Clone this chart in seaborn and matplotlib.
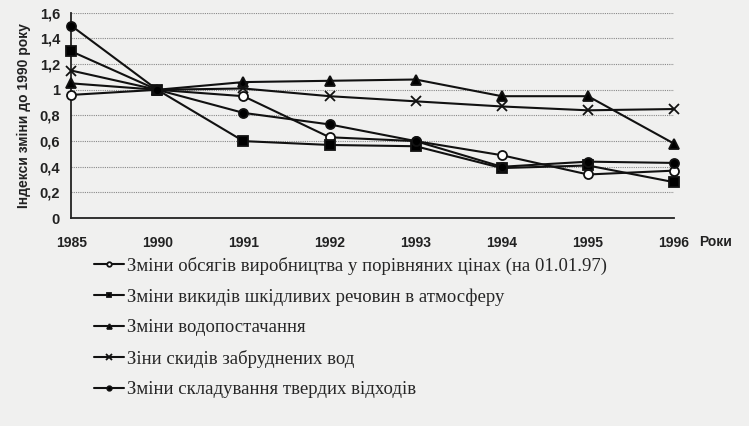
import pandas as pd
import seaborn as sns
import matplotlib.pyplot as plt

# values (index vs 1990)
years = ['1985', '1990', '1991', '1992', '1993', '1994', '1995', '1996']
production = [0.96, 1.0, 0.95, 0.63, 0.60, 0.49, 0.34, 0.37]
emissions = [1.30, 1.0, 0.60, 0.57, 0.56, 0.39, 0.41, 0.28]
water_supply = [1.05, 1.0, 1.06, 1.07, 1.08, 0.95, 0.95, 0.58]
waste_water = [1.15, 1.0, 1.01, 0.95, 0.91, 0.87, 0.84, 0.85]
solid_waste = [1.50, 1.0, 0.82, 0.73, 0.60, 0.40, 0.44, 0.43]

labels = ['Зміни обсягів виробництва у порівняних цінах (на 01.01.97)',
          'Зміни викидів шкідливих речовин в атмосферу',
          'Зміни водопостачання',
          'Зіни скидів забруднених вод',
          'Зміни складування твердих відходів']
yticks = [0, 0.2, 0.4, 0.6, 0.8, 1.0, 1.2, 1.4, 1.6]

sns.set_style('white')
plt.rcParams['font.family'] = ['Liberation Sans', 'DejaVu Sans']

bg = '#f0f0ef'
fig = plt.figure(figsize=(7.49, 4.26), dpi=100, facecolor=bg)
ax = fig.add_axes([0.095, 0.488, 0.805, 0.482])
ax.set_facecolor(bg)

series = [production, emissions, water_supply, waste_water, solid_waste]
markers = ['o', 's', '^', 'x', 'o']
faces = ['white', 'black', 'black', 'black', 'black']
sizes = [6.5, 6.5, 7, 7.5, 6.5]
for vals, lab, m, fc, ms in zip(series, labels, markers, faces, sizes):
    df = pd.DataFrame({'year': years, 'value': vals})
    sns.lineplot(data=df, x='year', y='value', sort=False, ax=ax, color='#111111',
                 linewidth=1.5, marker=m, markersize=ms, markerfacecolor=fc,
                 markeredgecolor='#111111', markeredgewidth=1.3, label=lab,
                 clip_on=False, zorder=3)

ax.set_xlim(0, len(years) - 1)
ax.set_ylim(0, 1.6)
ax.set_yticks(yticks)
ax.set_yticklabels([('%g' % t).replace('.', ',') for t in yticks],
                   fontsize=10.5, fontweight='bold', color='#222222')
ax.set_xticks(range(len(years)))
ax.set_xticklabels(years, fontsize=10, fontweight='bold', color='#222222')
ax.tick_params(axis='both', length=3, width=1, color='#333333', pad=5)
ax.tick_params(axis='x', pad=10)
ax.yaxis.grid(True, linestyle=(0, (1, 1)), color='#888888', linewidth=0.8)
ax.xaxis.grid(False)
for side in ['top', 'right']:
    ax.spines[side].set_visible(False)
for side in ['left', 'bottom']:
    ax.spines[side].set_color('#222222')
    ax.spines[side].set_linewidth(1.3)
ax.set_xlabel('')
ax.set_ylabel('Індекси зміни до 1990 року', fontsize=10, fontweight='bold',
              color='#222222', labelpad=6)
fig.text(0.955, 0.432, 'Роки', fontsize=10, fontweight='bold', color='#222222',
         ha='center', va='center')

handles, labs = ax.get_legend_handles_labels()
ax.get_legend().remove()
fig.legend(handles, labs, loc='upper left', bbox_to_anchor=(0.126, 0.398),
           frameon=False, prop={'family': 'Liberation Serif', 'size': 13.5},
           handlelength=1.6, handletextpad=0.15, markerscale=0.5,
           labelspacing=0.72, borderaxespad=0, borderpad=0)

fig.savefig('out.png', dpi=100, facecolor=bg)
